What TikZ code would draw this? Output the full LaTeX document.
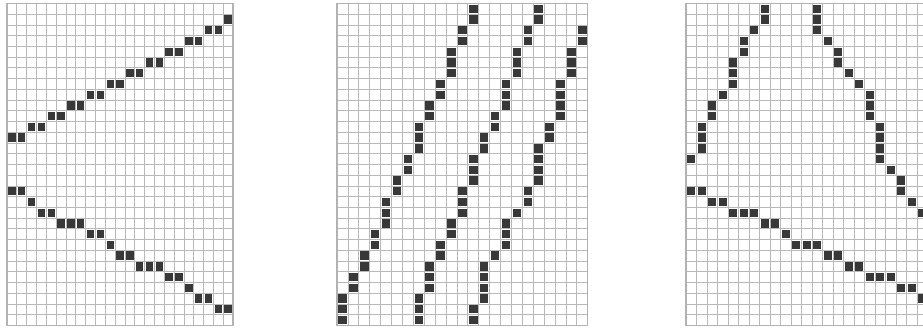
\documentclass[tikz,border=0pt]{standalone}
\tikzset{
  gridline/.style={draw=black!28, line width=0.8pt},
  gridframe/.style={draw=black!30, line width=1.2pt},
  pixel/.style={fill=black!78},
}
\begin{document}
\begin{tikzpicture}[x=1pt,y=-1pt]
  \useasboundingbox (0,0) rectangle (923,331);
  \clip (0,0) rectangle (923,331);
  \fill[white] (0,0) rectangle (923,331);

  % Left panel: two rays opening to the right
  \begin{scope}[shift={(7,3.5)}, x=9.83pt, y=-10.73pt]
    \foreach \c in {0,...,23} \draw[gridline] (\c,0) -- (\c,30);
    \foreach \r in {0,...,30} \draw[gridline] (0,\r) -- (23,\r);
    \draw[gridframe] (0,0) rectangle (23,30);
    % upper ray
    \foreach \r/\a/\b in {1/22/22, 2/20/21, 3/18/19, 4/16/17, 5/14/15, 6/12/13,
                          7/10/11, 8/8/9, 9/6/7, 10/4/5, 11/2/3, 12/0/1}
      \foreach \c in {\a,...,\b}
        \fill[pixel] ([xshift=1.2pt,yshift=-1.2pt]\c,\r) rectangle ([xshift=-1.2pt,yshift=1.2pt]\c+1,\r+1);
    % lower ray
    \foreach \r/\a/\b in {17/0/1, 18/2/2, 19/3/4, 20/5/7, 21/8/9, 22/10/10,
                          23/11/12, 24/13/15, 25/16/17, 26/18/18, 27/19/20, 28/21/22}
      \foreach \c in {\a,...,\b}
        \fill[pixel] ([xshift=1.2pt,yshift=-1.2pt]\c,\r) rectangle ([xshift=-1.2pt,yshift=1.2pt]\c+1,\r+1);
  \end{scope}

  % Middle panel: three parallel steep lines
  \begin{scope}[shift={(337,3.5)}, x=10.9pt, y=-10.73pt]
    \foreach \c in {0,...,23} \draw[gridline] (\c,0) -- (\c,30);
    \foreach \r in {0,...,30} \draw[gridline] (0,\r) -- (23,\r);
    \draw[gridframe] (0,0) rectangle (23,30);
    % left line
    \foreach \c/\a/\b in {0/27/29, 1/25/26, 2/23/24, 3/21/22, 4/18/20, 5/16/17, 6/14/15,
                          7/11/13, 8/9/10, 9/7/8, 10/4/6, 11/2/3, 12/0/1}
      \foreach \r in {\a,...,\b}
        \fill[pixel] ([xshift=1.2pt,yshift=-1.2pt]\c,\r) rectangle ([xshift=-1.2pt,yshift=1.2pt]\c+1,\r+1);
    % middle line
    \foreach \c/\a/\b in {7/27/29, 8/24/26, 9/22/23, 10/20/21, 11/17/19, 12/14/16,
                          13/12/13, 14/10/11, 15/7/9, 16/4/6, 17/2/3, 18/0/1}
      \foreach \r in {\a,...,\b}
        \fill[pixel] ([xshift=1.2pt,yshift=-1.2pt]\c,\r) rectangle ([xshift=-1.2pt,yshift=1.2pt]\c+1,\r+1);
    % right line
    \foreach \c/\a/\b in {12/28/29, 13/24/27, 14/23/23, 15/20/22, 16/19/19, 17/17/18,
                          18/13/16, 19/11/12, 20/7/10, 21/4/6, 22/2/3}
      \foreach \r in {\a,...,\b}
        \fill[pixel] ([xshift=1.2pt,yshift=-1.2pt]\c,\r) rectangle ([xshift=-1.2pt,yshift=1.2pt]\c+1,\r+1);
  \end{scope}

  % Right panel: peak and falling line, cut at the right edge
  \begin{scope}[shift={(686,3.5)}, x=10.5pt, y=-10.73pt]
    \foreach \c in {0,...,23} \draw[gridline] (\c,0) -- (\c,30);
    \foreach \r in {0,...,30} \draw[gridline] (0,\r) -- (23,\r);
    \draw[gridframe] (0,0) rectangle (23,30);
    % left arm
    \foreach \c/\a/\b in {7/0/1, 6/2/2, 5/3/4, 4/5/7, 3/8/8, 2/9/10, 1/11/13, 0/14/14}
      \foreach \r in {\a,...,\b}
        \fill[pixel] ([xshift=1.2pt,yshift=-1.2pt]\c,\r) rectangle ([xshift=-1.2pt,yshift=1.2pt]\c+1,\r+1);
    % right arm
    \foreach \c/\a/\b in {12/0/2, 13/3/3, 14/4/5, 15/6/6, 16/7/7, 17/8/10, 18/11/14,
                          19/15/15, 20/16/17, 21/18/18, 22/19/19}
      \foreach \r in {\a,...,\b}
        \fill[pixel] ([xshift=1.2pt,yshift=-1.2pt]\c,\r) rectangle ([xshift=-1.2pt,yshift=1.2pt]\c+1,\r+1);
    % falling line
    \foreach \r/\a/\b in {17/0/1, 18/2/3, 19/4/6, 20/7/8, 21/9/9, 22/10/12,
                          23/13/14, 24/15/16, 25/17/19, 26/20/21, 27/22/22}
      \foreach \c in {\a,...,\b}
        \fill[pixel] ([xshift=1.2pt,yshift=-1.2pt]\c,\r) rectangle ([xshift=-1.2pt,yshift=1.2pt]\c+1,\r+1);
  \end{scope}
\end{tikzpicture}
\end{document}
